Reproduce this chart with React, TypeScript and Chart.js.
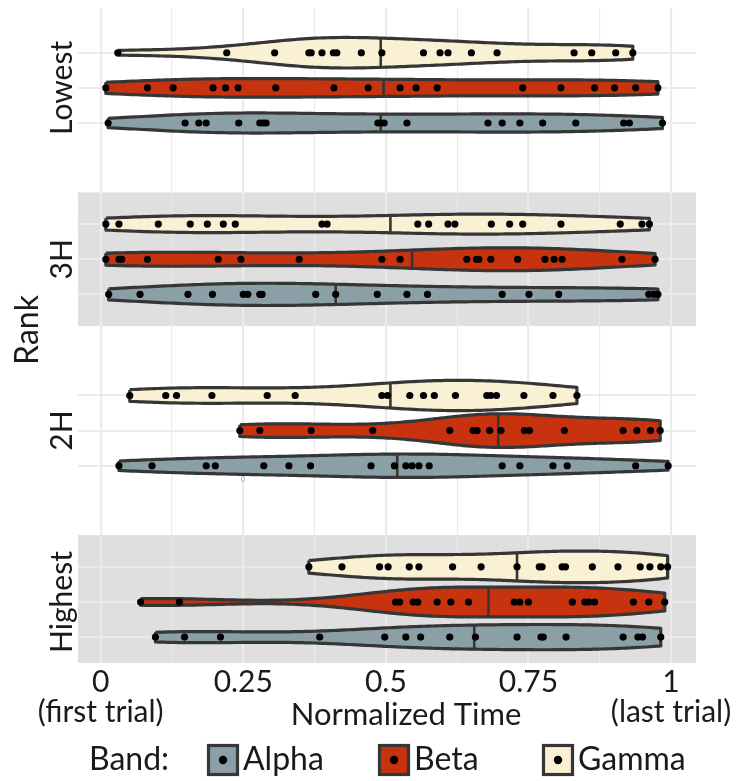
import React, { useEffect, useRef } from 'react';
import { Chart, registerables } from 'chart.js';

Chart.register(...registerables);

// ---------- data ----------
const ranks = ['Lowest', '3H', '2H', 'Highest'];
const bands = ['Alpha', 'Beta', 'Gamma'];
const bandColors = ['#8b9fa6', '#c8330f', '#faf0d4'];

const majorTicks = [0, 0.25, 0.5, 0.75, 1];
const majorTickLabels = [['0', '(first trial)'], ['0.25'], ['0.5'], ['0.75'], ['1', '(last trial)']];
const minorTicks = [0.125, 0.375, 0.625, 0.875];

const lowestAlpha = [0.013, 0.148, 0.172, 0.185, 0.242, 0.279, 0.285, 0.29, 0.486, 0.491, 0.497, 0.537, 0.679, 0.704, 0.735, 0.775, 0.833, 0.917, 0.927, 0.985];
const lowestBeta = [0.009, 0.082, 0.127, 0.197, 0.219, 0.241, 0.307, 0.409, 0.469, 0.525, 0.553, 0.59, 0.74, 0.807, 0.866, 0.901, 0.938, 0.977];
const lowestGamma = [0.03, 0.221, 0.305, 0.365, 0.369, 0.388, 0.408, 0.414, 0.457, 0.493, 0.566, 0.595, 0.609, 0.65, 0.695, 0.83, 0.861, 0.903, 0.933];

const h3Alpha = [0.014, 0.069, 0.153, 0.196, 0.25, 0.258, 0.279, 0.283, 0.377, 0.412, 0.485, 0.537, 0.573, 0.704, 0.751, 0.803, 0.961, 0.97, 0.977];
const h3Beta = [0.009, 0.032, 0.037, 0.082, 0.206, 0.246, 0.348, 0.493, 0.525, 0.642, 0.659, 0.663, 0.684, 0.731, 0.779, 0.795, 0.809, 0.914, 0.972];
const h3Gamma = [0.009, 0.032, 0.101, 0.157, 0.187, 0.215, 0.236, 0.388, 0.397, 0.556, 0.575, 0.609, 0.621, 0.685, 0.717, 0.74, 0.807, 0.911, 0.949, 0.962];

const h2Alpha = [0.032, 0.09, 0.185, 0.201, 0.286, 0.33, 0.368, 0.474, 0.515, 0.535, 0.546, 0.558, 0.576, 0.704, 0.735, 0.793, 0.818, 0.938, 0.995];
const h2Beta = [0.244, 0.279, 0.369, 0.477, 0.612, 0.653, 0.66, 0.682, 0.702, 0.743, 0.752, 0.813, 0.916, 0.94, 0.964, 0.981];
const h2Gamma = [0.051, 0.114, 0.133, 0.195, 0.292, 0.341, 0.493, 0.503, 0.542, 0.566, 0.585, 0.622, 0.677, 0.684, 0.694, 0.742, 0.793, 0.835];

const highestAlpha = [0.096, 0.147, 0.21, 0.384, 0.498, 0.535, 0.561, 0.612, 0.657, 0.73, 0.772, 0.776, 0.816, 0.916, 0.942, 0.95, 0.982];
const highestBeta = [0.07, 0.138, 0.517, 0.524, 0.548, 0.556, 0.59, 0.614, 0.645, 0.725, 0.735, 0.75, 0.827, 0.849, 0.856, 0.866, 0.934, 0.961, 0.989];
const highestGamma = [0.365, 0.423, 0.489, 0.504, 0.541, 0.558, 0.617, 0.667, 0.73, 0.769, 0.774, 0.809, 0.815, 0.862, 0.907, 0.946, 0.963, 0.982, 0.994];

// median markers: [alpha, beta, gamma] per rank
const lowestMedians = [0.491, 0.496, 0.491];
const h3Medians = [0.412, 0.546, 0.508];
const h2Medians = [0.52, 0.697, 0.508];
const highestMedians = [0.655, 0.68, 0.73];

// rank -> [alpha, beta, gamma]
const seriesByRank = [
  [lowestAlpha, lowestBeta, lowestGamma],
  [h3Alpha, h3Beta, h3Gamma],
  [h2Alpha, h2Beta, h2Gamma],
  [highestAlpha, highestBeta, highestGamma],
];
const mediansByRank = [lowestMedians, h3Medians, h2Medians, highestMedians];

// ---------- layout / style constants ----------
const FONT = 'Lato, "Open Sans", sans-serif';
const TEXT = '#1a1a1a';
const OUTLINE = '#363636';
const GRID = '#ebebeb';
const SHADE = '#dfdfdf';
const BAND_OFFSET = [0.205, 0, -0.205]; // alpha bottom, gamma top (axis reversed)
const HALF = 0.48 * 0.205;
const SHADE_HALF = 0.39;

// ---------- density (gaussian KDE, bw.nrd0, trimmed) ----------
function kde(vals: number[], n = 512) {
  const m = vals.length;
  const mean = vals.reduce((a, b) => a + b, 0) / m;
  const sd = Math.sqrt(vals.reduce((a, b) => a + (b - mean) ** 2, 0) / (m - 1));
  const s = [...vals].sort((a, b) => a - b);
  const q = (p: number) => {
    const h = (m - 1) * p;
    const l = Math.floor(h);
    const u = Math.min(l + 1, m - 1);
    return s[l] + (h - l) * (s[u] - s[l]);
  };
  const iqr = q(0.75) - q(0.25);
  let lo = Math.min(sd, iqr / 1.34);
  if (!(lo > 0)) lo = sd || 0.05;
  const bw = 0.9 * lo * Math.pow(m, -0.2);
  const xs: number[] = [];
  const ds: number[] = [];
  const a = s[0];
  const b = s[m - 1];
  for (let i = 0; i < n; i++) {
    const x = a + ((b - a) * i) / (n - 1);
    let d = 0;
    for (const v of vals) {
      const z = (x - v) / bw;
      d += Math.exp(-0.5 * z * z);
    }
    xs.push(x);
    ds.push(d / (m * bw * Math.sqrt(2 * Math.PI)));
  }
  return { xs, ds };
}

function interp(xs: number[], ys: number[], x: number) {
  if (x <= xs[0]) return ys[0];
  for (let i = 1; i < xs.length; i++) {
    if (x <= xs[i]) {
      const t = (x - xs[i - 1]) / (xs[i] - xs[i - 1]);
      return ys[i - 1] + t * (ys[i] - ys[i - 1]);
    }
  }
  return ys[ys.length - 1];
}

function buildDatasets() {
  const dens = seriesByRank.map((row) => row.map((v) => kde(v)));
  let maxD = 0;
  dens.forEach((row) => row.forEach((k) => k.ds.forEach((d) => (maxD = Math.max(maxD, d)))));
  const violins: any[] = [];
  const medians: any[] = [];
  const dots: any[] = [];
  seriesByRank.forEach((row, r) => {
    row.forEach((vals, b) => {
      const yc = r + BAND_OFFSET[b];
      const { xs, ds } = dens[r][b];
      const hw = ds.map((d) => (d / maxD) * HALF);
      const step = 4;
      const idx: number[] = [];
      for (let i = 0; i < xs.length; i += step) idx.push(i);
      if (idx[idx.length - 1] !== xs.length - 1) idx.push(xs.length - 1);
      const top = idx.map((i) => ({ x: xs[i], y: yc - hw[i] }));
      const bottom = [...idx].reverse().map((i) => ({ x: xs[i], y: yc + hw[i] }));
      violins.push({
        type: 'line',
        data: [...top, ...bottom, top[0]],
        fill: 'shape',
        backgroundColor: bandColors[b],
        borderColor: OUTLINE,
        borderWidth: 3.2,
        borderJoinStyle: 'round',
        pointRadius: 0,
        tension: 0,
        order: 3,
      });
      const qx = mediansByRank[r][b];
      const qw = interp(xs, hw, qx);
      medians.push({
        type: 'line',
        data: [
          { x: qx, y: yc - qw },
          { x: qx, y: yc + qw },
        ],
        borderColor: OUTLINE,
        borderWidth: 2.6,
        pointRadius: 0,
        fill: false,
        order: 2,
      });
      dots.push({
        type: 'line',
        showLine: false,
        data: vals.map((v) => ({ x: v, y: yc })),
        pointRadius: 3.6,
        pointBackgroundColor: '#000',
        pointBorderWidth: 0,
        order: 1,
      });
    });
  });
  return [...dots, ...medians, ...violins];
}

const rowValues = ranks.flatMap((_, r) => BAND_OFFSET.map((o) => r + o));

const shadePlugin = {
  id: 'shade',
  beforeDraw(chart: any) {
    const { ctx, chartArea: a, scales } = chart;
    const y = scales.y;
    ctx.save();
    ctx.beginPath();
    ctx.rect(a.left, a.top, a.right - a.left, a.bottom - a.top);
    ctx.clip();
    ctx.fillStyle = SHADE;
    ranks.forEach((_, r) => {
      if (r % 2 === 1) {
        const t = y.getPixelForValue(r - SHADE_HALF);
        const b = y.getPixelForValue(r + SHADE_HALF);
        ctx.fillRect(a.left, Math.min(t, b), a.right - a.left, Math.abs(b - t));
      }
    });
    ctx.restore();
  },
};

const textPlugin = {
  id: 'texts',
  afterDraw(chart: any) {
    const { ctx, scales } = chart;
    const y = scales.y;
    ctx.save();
    ctx.fillStyle = TEXT;
    ctx.font = `30px ${FONT}`;
    ctx.textAlign = 'center';
    ctx.textBaseline = 'alphabetic';
    ranks.forEach((name, r) => {
      ctx.save();
      ctx.translate(72, y.getPixelForValue(r));
      ctx.rotate(-Math.PI / 2);
      ctx.fillText(name, 0, 0);
      ctx.restore();
    });
    ctx.save();
    ctx.font = `32px ${FONT}`;
    ctx.translate(38, 330);
    ctx.rotate(-Math.PI / 2);
    ctx.fillText('Rank', 0, 0);
    ctx.restore();
    ctx.font = `31px ${FONT}`;
    ctx.fillText('Normalized Time', 406, 725);
    ctx.save();
    ctx.font = `7px ${FONT}`;
    ctx.fillStyle = '#9a9a9a';
    ctx.fillText('0', 243, 482);
    ctx.restore();
    // legend
    ctx.font = `32px ${FONT}`;
    ctx.textAlign = 'left';
    ctx.fillText('Band:', 89, 770);
    const boxX = [207, 378, 542];
    bands.forEach((name, b) => {
      const x0 = boxX[b];
      ctx.fillStyle = bandColors[b];
      ctx.fillRect(x0 + 1.5, 745.5, 29, 29);
      ctx.strokeStyle = OUTLINE;
      ctx.lineWidth = 3.2;
      ctx.strokeRect(x0 + 1.5, 745.5, 29, 29);
      ctx.fillStyle = '#000';
      ctx.beginPath();
      ctx.arc(x0 + 16, 760, 4.2, 0, Math.PI * 2);
      ctx.fill();
      ctx.fillStyle = TEXT;
      ctx.fillText(name, x0 + 36, 770);
    });
    ctx.restore();
  },
};

export default function App() {
  const ref = useRef<HTMLCanvasElement | null>(null);
  useEffect(() => {
    let chart: Chart | null = null;
    let cancelled = false;
    const make = () => {
      if (cancelled || !ref.current) return;
      chart = new Chart(ref.current, {
        type: 'line',
        data: { datasets: buildDatasets() },
        options: {
          animation: false,
          responsive: false,
          events: [],
          layout: { padding: { top: 8, right: 45, bottom: 0, left: 0 } },
          plugins: { legend: { display: false }, tooltip: { enabled: false } },
          scales: {
            x: {
              type: 'linear',
              min: -0.0398,
              max: 1.0438,
              afterBuildTicks: (s: any) => {
                s.ticks = [...majorTicks, ...minorTicks].sort((a, b) => a - b).map((v) => ({ value: v }));
              },
              afterFit: (s: any) => {
                s.height = 118;
                s.paddingLeft = 0;
                s.paddingRight = 0;
              },
              border: { display: false },
              grid: {
                color: GRID,
                drawTicks: false,
                lineWidth: (c: any) => (majorTicks.includes(c.tick?.value) ? 2.2 : 1.1),
              },
              ticks: {
                autoSkip: false,
                maxRotation: 0,
                minRotation: 0,
                padding: 4,
                color: TEXT,
                font: { family: FONT, size: 30, lineHeight: 1.0 },
                callback: (v: any) => {
                  const i = majorTicks.indexOf(Number(v));
                  return i >= 0 ? majorTickLabels[i] : '';
                },
              },
            },
            y: {
              type: 'linear',
              reverse: true,
              min: -0.466,
              max: 3.356,
              afterBuildTicks: (s: any) => {
                s.ticks = rowValues.map((v) => ({ value: v }));
              },
              afterFit: (s: any) => {
                s.width = 78;
                s.paddingTop = 0;
                s.paddingBottom = 0;
              },
              border: { display: false },
              grid: { color: GRID, lineWidth: 2, drawTicks: false },
              ticks: { display: false },
            },
          },
        },
        plugins: [shadePlugin, textPlugin],
      } as any);
    };
    const fonts: any = (document as any).fonts;
    if (fonts && fonts.load) {
      Promise.all([fonts.load(`30px Lato`)]).then(make, make);
    } else make();
    return () => {
      cancelled = true;
      if (chart) chart.destroy();
    };
  }, []);
  return (
    <div style={{ position: 'absolute', left: 0, top: 0, width: 741, height: 781, background: '#fff' }}>
      <canvas ref={ref} width={741} height={781} style={{ display: 'block', width: 741, height: 781 }} />
    </div>
  );
}
